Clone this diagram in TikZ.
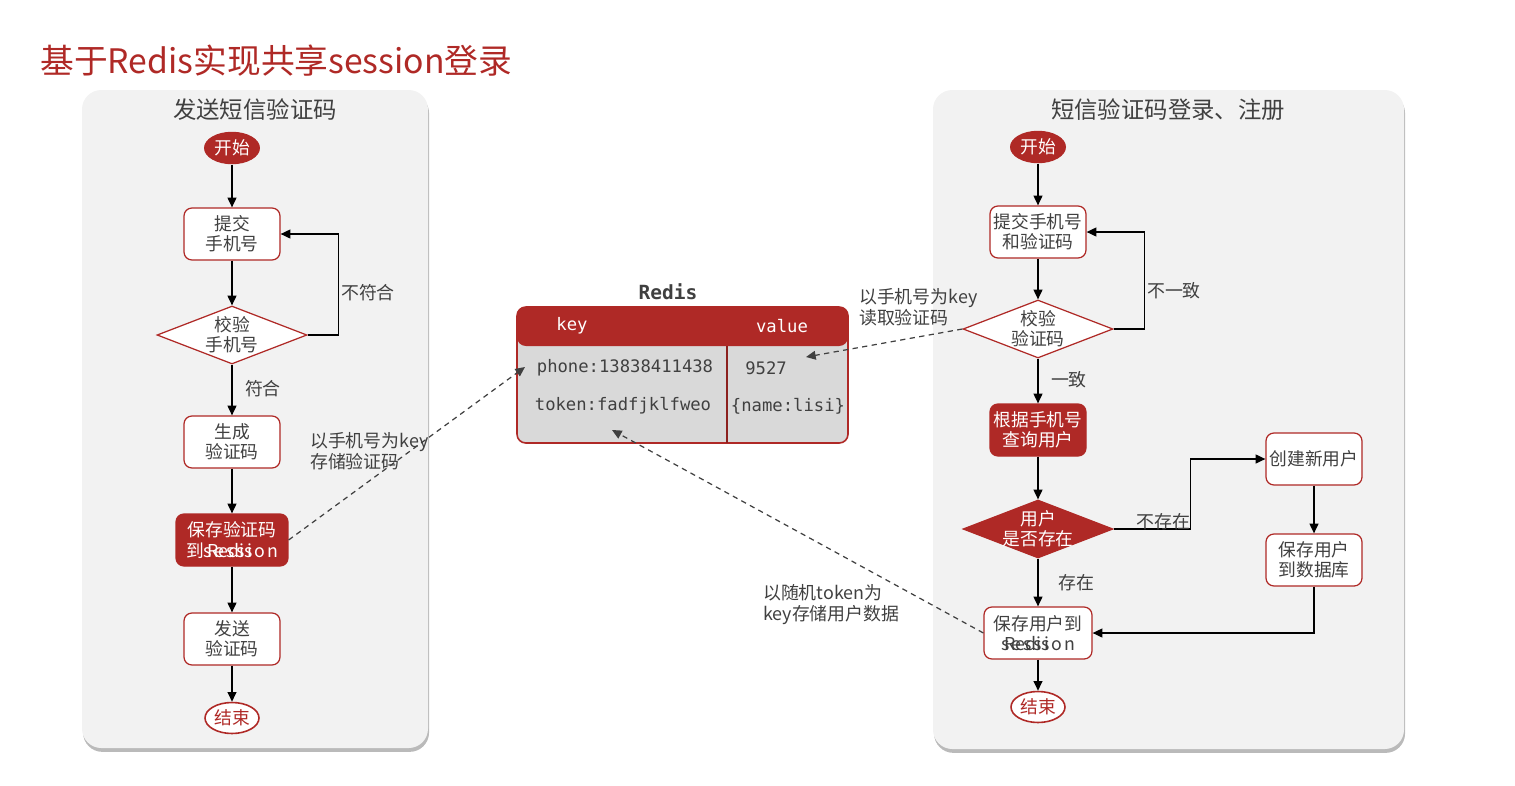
\documentclass[tikz,border=0pt]{standalone}
\usepackage{fontspec}
\setmainfont{Noto Sans CJK SC}
\setmonofont{DejaVu Sans Mono}
\usetikzlibrary{arrows.meta,shapes.geometric,shadows}

\definecolor{redisred}{RGB}{175,41,38}
\definecolor{panelgray}{RGB}{242,242,242}
\definecolor{tablegray}{RGB}{217,217,217}
\definecolor{inkgray}{RGB}{64,64,64}

\newcommand{\spacedword}[1]{{\addfontfeatures{LetterSpace=12}#1}}

\tikzset{
  panel/.style={fill=panelgray, rounded corners=11pt,
    drop shadow={shadow xshift=0.6pt, shadow yshift=-2.2pt, opacity=0.45, fill=black!60}},
  paneltitle/.style={text=inkgray, inner sep=0pt, font=\fontsize{13.3}{15}\selectfont},
  startnode/.style={ellipse, fill=redisred, text=white, inner sep=0pt,
    minimum width=1.12cm, minimum height=0.65cm, font=\fontsize{10.1}{11.5}\selectfont},
  endnode/.style={ellipse, draw=redisred, line width=0.9pt, fill=white, text=redisred, inner sep=0pt,
    minimum width=1.08cm, minimum height=0.62cm, font=\fontsize{10.1}{11.5}\selectfont},
  stepbox/.style={rectangle, rounded corners=4.5pt, draw=redisred, line width=0.7pt, fill=white,
    text=inkgray, align=center, inner xsep=2pt, inner ysep=1pt,
    minimum width=1.92cm, minimum height=1.04cm, font=\fontsize{10.1}{11.5}\selectfont},
  keybox/.style={stepbox, fill=redisred, text=white},
  checkdia/.style={diamond, shape aspect=2.6, draw=redisred, line width=0.7pt, fill=white,
    text=inkgray, align=center, inner xsep=-5pt, inner ysep=0pt,
    minimum width=3cm, minimum height=1.16cm, font=\fontsize{10.1}{11.5}\selectfont},
  keydia/.style={checkdia, fill=redisred, text=white},
  flowline/.style={line width=0.85pt, -{Triangle[length=5.5pt,width=5pt]}},
  dataline/.style={inkgray, line width=0.7pt, dash pattern=on 3pt off 2.5pt,
    -{Triangle[length=5.5pt,width=5pt]}},
  flowlabel/.style={text=inkgray, align=left, inner sep=1pt, font=\fontsize{10.2}{11.9}\selectfont},
  cell/.style={text=inkgray, inner sep=1pt, font=\ttfamily\fontsize{9.8}{11}\selectfont},
}

\begin{document}
\begin{tikzpicture}[x=0.02cm, y=-0.02cm]
  \useasboundingbox (0,0) rectangle (1515,785);

  % title
  \node[anchor=west, inner sep=0pt, text=redisred, font=\fontsize{19.2}{22}\selectfont]
    (maintitle) at (40,61) {基于Redis实现共享session登录};

  % two panels
  \path[panel] (82,90) rectangle (428,748);
  \path[panel] (933,90) rectangle (1404,749);
  \node[paneltitle] (lefttitle) at (255,110) {发送短信验证码};
  \node[paneltitle] (righttitle) at (1168,110) {短信验证码登录、注册};

  % send code flow
  \node[startnode] (ls) at (232,148) {开始};
  \node[stepbox] (l1) at (232,234) {提交\\手机号};
  \node[checkdia] (l2) at (232,335) {校验\\手机号};
  \node[stepbox] (l3) at (232,442) {生成\\验证码};
  \node[keybox, minimum width=2.24cm] (l4) at (232,540)
    {保存验证码\\到\rlap{\hspace{2pt}Redis}\spacedword{session}};
  \node[stepbox] (l5) at (232,639) {发送\\验证码};
  \node[endnode] (le) at (232,718) {结束};

  \draw[flowline] (ls) -- (l1);
  \draw[flowline] (l1) -- (l2);
  \draw[flowline] (l2.east) -- ++(31,0)
    |- node[flowlabel, pos=0.21, anchor=west] (nofit) {不符合} (l1.east);
  \draw[flowline] (l2) -- node[flowlabel, pos=0.47, right=6pt] (fit) {符合} (l3);
  \draw[flowline] (l3) -- (l4);
  \draw[flowline] (l4) -- (l5);
  \draw[flowline] (l5) -- (le);

  % redis table
  \fill[tablegray, rounded corners=5pt] (517,307) rectangle (848,443);
  \fill[redisred, rounded corners=5pt] (517,307) rectangle (848,346);
  \draw[redisred, line width=0.9pt, rounded corners=5pt] (517,307) rectangle (848,443);
  \draw[redisred!80!black, line width=0.6pt] (727,346) -- (727,443);
  \node[cell, font=\ttfamily\bfseries\fontsize{11.1}{13}\selectfont] (rtitle) at (668,292) {Redis};
  \node[cell, text=white] (hkey) at (572,326) {key};
  \node[cell, text=white] (hval) at (782,326) {value};
  \node[cell] (kphone) at (625,368) {phone:13838411438};
  \node[cell] (vcode) at (766,368) {9527};
  \node[cell] (ktoken) at (623,406) {token:fadfjklfweo};
  \node[cell] (vuser) at (788,406) {\{name:lisi\}};
  \coordinate (phonein) at (525,367);
  \coordinate (codein) at (806,357);
  \coordinate (tokenin) at (612,430);

  % login flow
  \node[startnode] (rs) at (1038,147) {开始};
  \node[stepbox] (r1) at (1038,232) {提交手机号\\和验证码};
  \node[checkdia] (r2) at (1038,329) {校验\\验证码};
  \node[keybox] (r3) at (1038,430) {根据手机号\\查询用户};
  \node[keydia] (r4) at (1038,529) {用户\\是否存在};
  \node[stepbox] (r5) at (1314,459) {创建新用户};
  \node[stepbox] (r6) at (1314,560) {保存用户\\到数据库};
  \node[stepbox, minimum width=2.16cm] (r7) at (1038,633)
    {保存用户到\\\rlap{\hspace{2pt}Redis}\spacedword{session}};
  \node[endnode] (re) at (1038,707) {结束};

  \draw[flowline] (rs) -- (r1);
  \draw[flowline] (r1) -- (r2);
  \draw[flowline] (r2.east) -- ++(31,0)
    |- node[flowlabel, pos=0.2, anchor=west] (nomatch) {不一致} (r1.east);
  \draw[flowline] (r2) -- node[flowlabel, pos=0.47, right=6pt] (match) {一致} (r3);
  \draw[flowline] (r3) -- (r4);
  \draw[flowline] (r4.east) -- node[flowlabel, pos=0.65, yshift=4pt] (nouser) {不存在} ++(77,0)
    |- (r5.west);
  \draw[flowline] (r5) -- (r6);
  \draw[flowline] (r6.south) |- (r7.east);
  \draw[flowline] (r4) -- node[flowlabel, pos=0.5, right=10pt] (hasuser) {存在} (r7);
  \draw[flowline] (r7) -- (re);

  % reads and writes to redis
  \draw[dataline] (l4.east) -- (phonein);
  \node[flowlabel, anchor=west] (savecode) at (308,451) {以手机号为key\\存储验证码};
  \draw[dataline] (r2.west) -- (codein);
  \node[flowlabel, anchor=west] (readcode) at (857,307) {以手机号为key\\读取验证码};
  \draw[dataline] (r7.west) -- (tokenin);
  \node[flowlabel, anchor=west] (saveuser) at (761,605) {以随机token为\\key存储用户数据};

\end{tikzpicture}
\end{document}
